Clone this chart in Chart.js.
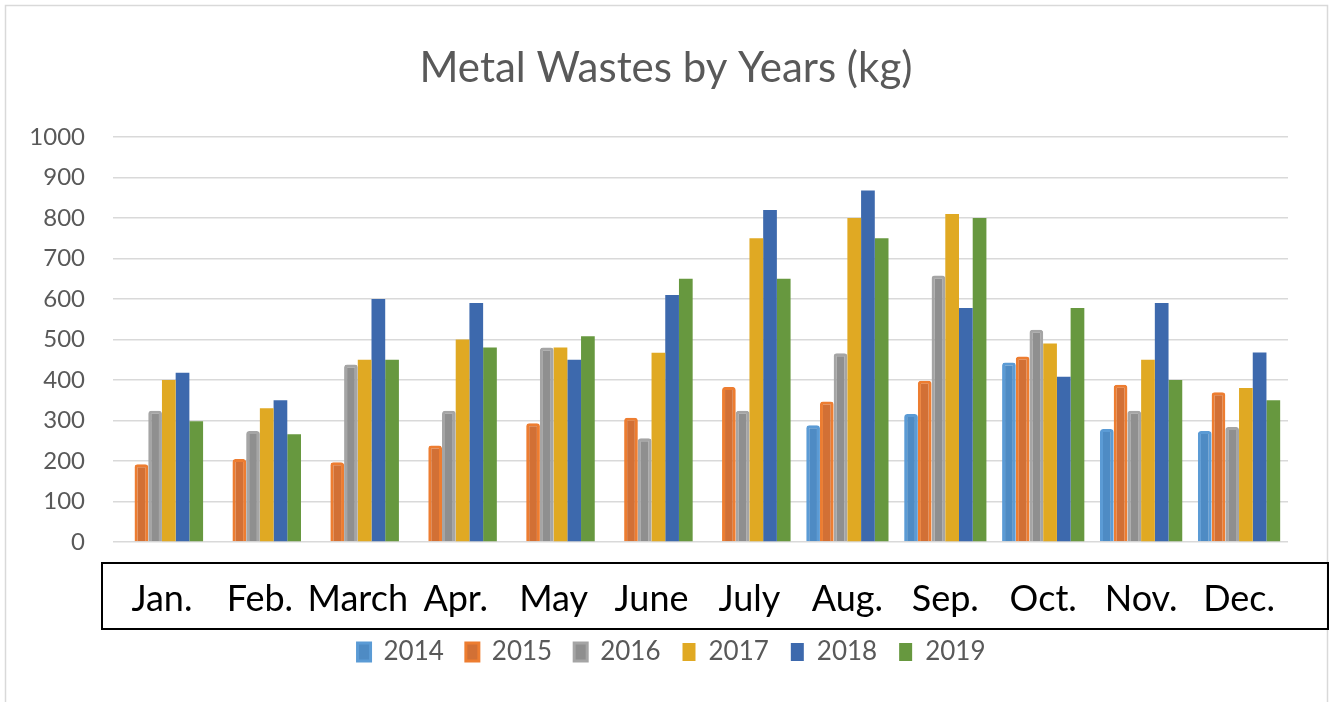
<!DOCTYPE html>
<html>
<head>
<meta charset="utf-8">
<script src="https://cdn.jsdelivr.net/npm/chart.js@4/dist/chart.umd.min.js"></script>
<style>
html,body{margin:0;padding:0;background:#fff;}
#wrap{width:1333px;height:702px;position:relative;}
</style>
</head>
<body>
<div id="wrap"><canvas id="c" width="1333" height="702"></canvas></div>
<script>
const months = ["Jan.","Feb.","March","Apr.","May","June","July","Aug.","Sep.","Oct.","Nov.","Dec."];
const yTicks = [0,100,200,300,400,500,600,700,800,900,1000];
const y2014 = [0,0,0,0,0,0,0,288,316,443,279,274];
const y2015 = [192,205,197,238,293,307,383,347,398,458,388,370];
const y2016 = [324,274,438,324,480,256,324,466,658,524,324,284];
const y2017 = [400,330,450,500,480,467,750,800,810,490,450,380];
const y2018 = [418,350,600,590,450,610,820,868,578,408,590,468];
const y2019 = [298,266,450,480,508,650,650,750,800,578,400,350];

const title = "Metal Wastes by Years (kg)";
const FONT = "Lato, 'Open Sans', sans-serif";

function ds(label, data, fill, border, bw, radius){
  return {label, data, backgroundColor: fill, borderColor: border, borderWidth: bw,
          borderRadius: radius, borderSkipped: 'bottom', yAxisID:'y'};
}

const decor = {
  id:'decor',
  beforeDraw(chart){
    const ctx = chart.ctx;
    ctx.save();
    ctx.fillStyle = '#fff';
    ctx.fillRect(0,0,chart.width,chart.height);
    ctx.strokeStyle = '#D9D9D9';
    ctx.lineWidth = 1.5;
    ctx.strokeRect(5.5,5.5,1322,720);
    ctx.fillStyle = '#595959';
    ctx.font = "42px " + FONT;
    ctx.textAlign = 'center';
    ctx.textBaseline = 'middle';
    ctx.fillText(title, 666, 68);
    ctx.restore();
  },
  afterDraw(chart){
    const ctx = chart.ctx;
    ctx.save();
    ctx.strokeStyle = '#000';
    ctx.lineWidth = 2;
    ctx.strokeRect(102, 563, 1226, 66);
    ctx.restore();
  }
};

new Chart(document.getElementById('c'), {
  type:'bar',
  data:{
    labels: months,
    datasets:[
      ds('2014', y2014, '#4E8BC4', '#5B9BD5', 3, 3),
      ds('2015', y2015, '#D27035', '#ED7D31', 3, 3),
      ds('2016', y2016, '#8F8F8F', '#A5A5A5', 3, 3),
      ds('2017', y2017, '#E0A923', '#E0A923', 0, 0),
      ds('2018', y2018, '#3D69AD', '#3D69AD', 0, 0),
      ds('2019', y2019, '#67983F', '#67983F', 0, 0)
    ]
  },
  options:{
    responsive:false,
    animation:false,
    layout:{padding:{left:10,right:0,top:137,bottom:27}},
    datasets:{bar:{categoryPercentage:0.84, barPercentage:1.0}},
    plugins:{
      title:{display:false},
      tooltip:{enabled:false},
      legend:{
        position:'bottom',
        labels:{
          font:{family:FONT,size:26},
          color:'#595959',
          boxWidth:13, boxHeight:18,
          padding:22
        }
      }
    },
    scales:{
      x:{
        grid:{display:false, drawTicks:false},
        border:{display:false},
        ticks:{font:{family:FONT,size:36}, color:'#000', padding:36, maxRotation:0, autoSkip:false},
        afterFit(s){ s.height = 75; }
      },
      y:{
        min:0, max:1000,
        afterBuildTicks(s){ s.ticks = yTicks.map(v=>({value:v})); },
        grid:{color:'#D9D9D9', lineWidth:1.5, drawTicks:false},
        border:{display:false},
        ticks:{font:{family:FONT,size:24}, color:'#595959', padding:28, callback:v=>String(v)},
        afterFit(s){ s.width = 103; }
      },
      yRight:{
        position:'right',
        min:0, max:1000,
        grid:{display:false, drawTicks:false},
        border:{display:false},
        ticks:{display:false},
        afterFit(s){ s.width = 45; }
      }
    }
  },
  plugins:[decor]
});
</script>
</body>
</html>
